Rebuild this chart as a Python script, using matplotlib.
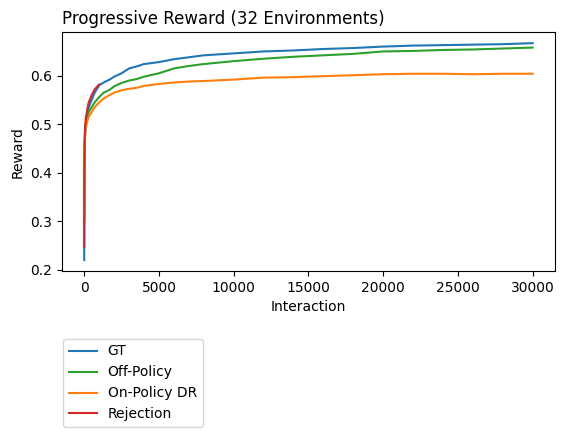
import matplotlib
matplotlib.use("Agg")
import matplotlib.pyplot as plt

# interaction checkpoints
steps = [0, 10, 25, 50, 100, 200, 300, 500, 700, 1000, 1300, 1700, 2000, 2500,
         3000, 3500, 4000, 5000, 6000, 7000, 8000, 10000, 12000, 14000, 16000,
         18000, 20000, 22000, 24000, 26000, 28000, 30000]

gt = [0.22, 0.36, 0.44, 0.48, 0.50, 0.52, 0.535, 0.55, 0.565, 0.58, 0.586, 0.592,
      0.598, 0.605, 0.615, 0.619, 0.624, 0.628, 0.634, 0.638, 0.642, 0.646, 0.650,
      0.652, 0.655, 0.657, 0.660, 0.662, 0.663, 0.664, 0.665, 0.667]

off_policy = [0.30, 0.40, 0.45, 0.48, 0.50, 0.515, 0.525, 0.535, 0.545, 0.556, 0.565,
              0.571, 0.578, 0.585, 0.590, 0.593, 0.598, 0.605, 0.615, 0.620, 0.624,
              0.630, 0.635, 0.639, 0.642, 0.645, 0.650, 0.651, 0.653, 0.654, 0.656, 0.658]

on_policy_dr = [0.30, 0.42, 0.46, 0.47, 0.49, 0.505, 0.515, 0.525, 0.535, 0.545, 0.553,
                0.560, 0.565, 0.570, 0.573, 0.575, 0.579, 0.583, 0.586, 0.588, 0.589,
                0.592, 0.596, 0.597, 0.599, 0.601, 0.603, 0.604, 0.604, 0.603, 0.604, 0.604]

rej_steps = [0, 10, 25, 50, 100, 200, 300, 500, 700, 1000]
rejection = [0.247, 0.40, 0.46, 0.49, 0.51, 0.53, 0.545, 0.56, 0.572, 0.582]

fig = plt.figure(figsize=(5.67, 4.37), dpi=100)
ax = fig.add_axes([0.109, 0.380, 0.870, 0.546])

ax.plot(steps, gt, color="tab:blue", label="GT")
ax.plot(steps, off_policy, color="tab:green", label="Off-Policy")
ax.plot(steps, on_policy_dr, color="tab:orange", label="On-Policy DR")
ax.plot(rej_steps, rejection, color="tab:red", label="Rejection")

ax.set_title("Progressive Reward (32 Environments)", loc="left")
ax.set_xlabel("Interaction")
ax.set_ylabel("Reward")
ax.legend(loc="upper left", bbox_to_anchor=(0.003, -0.285), borderaxespad=0)

fig.savefig("out.png", dpi=100)
